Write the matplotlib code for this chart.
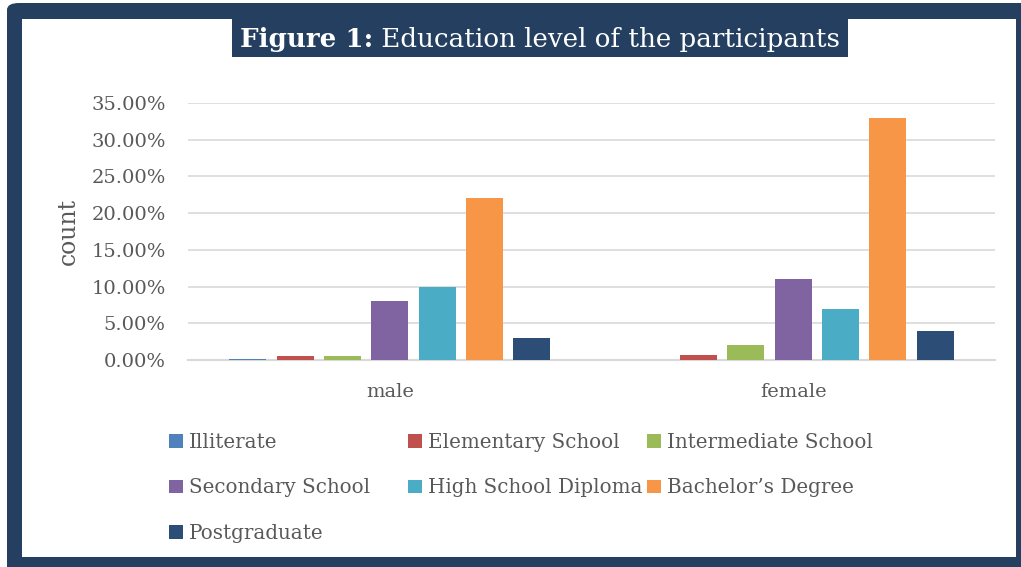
import numpy as np
import matplotlib.pyplot as plt
from matplotlib.patches import Rectangle, FancyBboxPatch

groups = ["male", "female"]
levels = ["Illiterate", "Elementary School", "Intermediate School",
          "Secondary School", "High School Diploma", "Bachelor\u2019s Degree",
          "Postgraduate"]
male = [0.1, 0.55, 0.6, 8.0, 10.0, 22.0, 3.0]
female = [0.0, 0.7, 2.0, 11.0, 7.0, 33.0, 3.95]
colors = ["#4F81BD", "#C0504D", "#9BBB59", "#8064A2", "#4BACC6", "#F79646", "#2C4D75"]
yticks = [0, 5, 10, 15, 20, 25, 30, 35]

W, H = 1021, 567
navy = "#243F60"
grey = "#595959"
plt.rcParams['font.family'] = ['DejaVu Serif']

fig = plt.figure(figsize=(W / 100, H / 100), dpi=100)


def fx(px):
    return px / W


def fy(py):
    return 1 - py / H


# frame around the figure
fig.patches.append(FancyBboxPatch((fx(7), fy(600)), fx(1040) - fx(7), fy(3) - fy(600),
                                  boxstyle="round,pad=0,rounding_size=0.012",
                                  transform=fig.transFigure, facecolor=navy,
                                  edgecolor="none", zorder=0))
fig.patches.append(Rectangle((fx(22), fy(557)), fx(1016) - fx(22), fy(19) - fy(557),
                             transform=fig.transFigure, facecolor="white",
                             edgecolor="none", zorder=1))
fig.patches.append(Rectangle((fx(232), fy(57)), fx(848) - fx(232), fy(19) - fy(57),
                             transform=fig.transFigure, facecolor=navy,
                             edgecolor="none", zorder=2))

# title: bold part + normal part
t1 = fig.text(fx(240), fy(47), "Figure 1:", color="white", fontsize=18.8,
              fontweight="bold", ha="left", va="baseline", zorder=3)
fig.add_artist(plt.Annotation(" Education level of the participants", xy=(1, 0),
                              xycoords=t1, va="bottom", ha="left",
                              color="white", fontsize=18.8, zorder=3))

ax = fig.add_axes([fx(188), fy(360), fx(995) - fx(188), fy(103) - fy(360)])
ax.set_zorder(4)
ax.patch.set_alpha(0)

x = np.arange(len(groups))
step = 47.3 / 403.5
width = 37 / 403.5
bars = []
for i, lvl in enumerate(levels):
    vals = [male[i], female[i]]
    b = ax.bar(x + (i - 3) * step, vals, width, color=colors[i], label=lvl, zorder=3)
    bars.append(b)

ax.set_xlim(-0.5, 1.5)
ax.set_ylim(0, 35)
ax.set_yticks(yticks)
ax.set_yticklabels([f"{v:.2f}%" for v in yticks])
ax.set_xticks(x)
ax.set_xticklabels(groups)
ax.tick_params(axis="both", length=0, labelsize=14, colors=grey)
ax.tick_params(axis="y", pad=16)
ax.tick_params(axis="x", pad=16.5)
ax.grid(axis="y", color="#D9D9D9", linewidth=1.2, zorder=0)
for s in ["top", "right", "left"]:
    ax.spines[s].set_visible(False)
ax.spines["bottom"].set_color("#D9D9D9")
ax.spines["bottom"].set_linewidth(1.5)
ax.set_ylabel("count", fontsize=17, color=grey, labelpad=8)

# legend laid out as three columns (row-major order like the original)
cols = [[0, 3, 6], [1, 4], [2, 5]]
xs = [169, 408, 647]
for c, xp in zip(cols, xs):
    leg = fig.legend([bars[i] for i in c], [levels[i] for i in c],
                     loc="upper left", bbox_to_anchor=(fx(xp), fy(433)),
                     frameon=False, fontsize=14.3, labelcolor=grey,
                     handlelength=0.7, handleheight=0.7, handletextpad=0.3,
                     labelspacing=1.33, borderpad=0, borderaxespad=0)
    leg.set_zorder(5)

fig.savefig("out.png", dpi=100)
